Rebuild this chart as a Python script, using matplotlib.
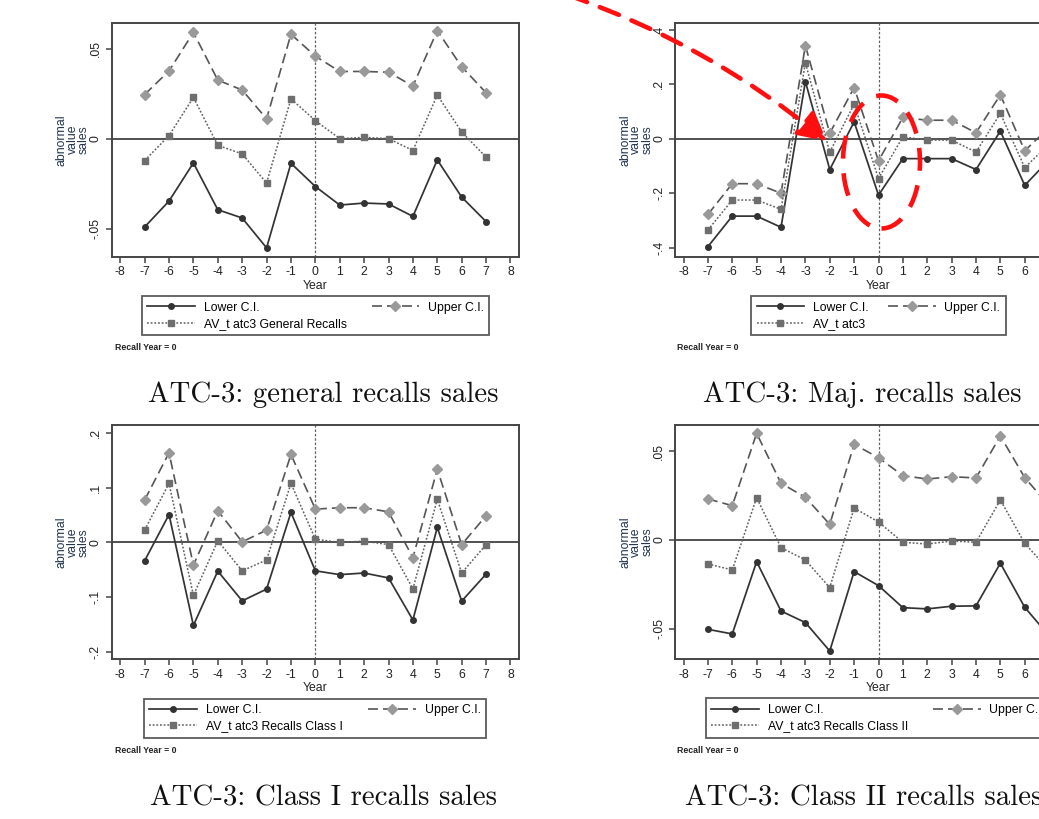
import matplotlib
matplotlib.use("Agg")
import matplotlib.pyplot as plt
from matplotlib.patches import Ellipse, FancyArrowPatch

plt.rcParams['font.family'] = ['Liberation Sans', 'DejaVu Sans']

years = list(range(-7, 8))
xticks = list(range(-8, 9))

# ATC-3 general recalls
gen_lower = [-0.0491, -0.0347, -0.0135, -0.0395, -0.0441, -0.0607, -0.0137, -0.0266,
             -0.0369, -0.0358, -0.0363, -0.0432, -0.0118, -0.0325, -0.0461]
gen_av = [-0.0122, 0.0017, 0.0229, -0.0037, -0.0085, -0.0247, 0.0221, 0.0100,
          0.0000, 0.0007, 0.0000, -0.0066, 0.0242, 0.0037, -0.0103]
gen_upper = [0.0245, 0.0376, 0.0590, 0.0325, 0.0270, 0.0110, 0.0580, 0.0458,
             0.0373, 0.0373, 0.0369, 0.0292, 0.0600, 0.0399, 0.0255]

# ATC-3 major recalls
maj_lower = [-0.396, -0.284, -0.284, -0.325, 0.210, -0.113, 0.062, -0.207,
             -0.073, -0.073, -0.073, -0.113, 0.028, -0.171, -0.078]
maj_av = [-0.335, -0.225, -0.225, -0.259, 0.279, -0.049, 0.127, -0.146,
          0.007, -0.005, -0.005, -0.049, 0.093, -0.106, -0.020]
maj_upper = [-0.278, -0.165, -0.165, -0.200, 0.342, 0.020, 0.188, -0.081,
             0.078, 0.068, 0.068, 0.022, 0.161, -0.044, 0.041]

# ATC-3 class I recalls
c1_lower = [-0.0336, 0.051, -0.152, -0.0525, -0.107, -0.0855, 0.055, -0.052,
            -0.059, -0.056, -0.065, -0.142, 0.0275, -0.1075, -0.058]
c1_av = [0.0226, 0.108, -0.097, 0.003, -0.052, -0.032, 0.108, 0.006,
         0.000, 0.0024, -0.004, -0.085, 0.079, -0.056, -0.004]
c1_upper = [0.0776, 0.164, -0.0415, 0.058, 0.001, 0.0226, 0.161, 0.061,
            0.0635, 0.0635, 0.056, -0.028, 0.134, -0.004, 0.049]

# ATC-3 class II recalls
c2_lower = [-0.0503, -0.0529, -0.0122, -0.0400, -0.0465, -0.0625, -0.0178, -0.0257,
            -0.0381, -0.0388, -0.0373, -0.0371, -0.0131, -0.0379, -0.0540]
c2_av = [-0.0135, -0.0169, 0.0238, -0.0043, -0.0113, -0.0268, 0.0180, 0.0101,
         -0.0013, -0.0023, -0.0006, -0.0013, 0.0225, -0.0019, -0.0170]
c2_upper = [0.0231, 0.0193, 0.0600, 0.0319, 0.0240, 0.0088, 0.0538, 0.0463,
            0.0362, 0.0343, 0.0356, 0.0349, 0.0585, 0.0351, 0.0193]

W, H = 1039, 819


def box(l, t, r, b):
    return [l / W, 1 - b / H, (r - l) / W, (b - t) / H]


def panel(pos, lower, av, upper, ylim, yticks, ylabels, av_name, leg_x, leg_w, note_x):
    ax = fig.add_axes(pos)
    ax.axhline(0, color='#505050', lw=1.4, zorder=1)
    ax.axvline(0, color='#606060', lw=0.9, ls=(0, (2, 1.5)), zorder=1)
    l1, = ax.plot(years, lower, color='#333333', lw=1.25, marker='o', ms=4,
                  mfc='#333333', mec='#333333', zorder=3)
    l2, = ax.plot(years, upper, color='#555555', lw=1.2, ls=(0, (6, 3)), marker='D',
                  ms=5, mfc='#999999', mec='#999999', zorder=3)
    l3, = ax.plot(years, av, color='#606060', lw=1.1, ls=(0, (1.2, 1.2)), marker='s',
                  ms=4.8, mfc='#6e6e6e', mec='#6e6e6e', zorder=3)
    ax.set_xlim(-8.35, 8.35)
    ax.set_ylim(*ylim)
    ax.set_xticks(xticks)
    ax.set_xticklabels([str(t) for t in xticks], fontsize=8.8, color='#222222')
    ax.set_yticks(yticks)
    ax.set_yticklabels(ylabels, fontsize=8.8, rotation=90, va='center', color='#222222')
    ax.tick_params(direction='out', length=4, width=1.1, color='#444444', pad=3)
    for s in ax.spines.values():
        s.set_color('#454545')
        s.set_linewidth(1.4)
    ax.set_xlabel('Year', fontsize=8.8, labelpad=1, color='#222222')
    ax.text(-0.095, 0.5, 'abnormal\nvalue\nsales', transform=ax.transAxes, rotation=90,
            ha='center', va='center', multialignment='center', fontsize=8.8,
            linespacing=0.9, color='#22344f')
    leg = ax.legend([l1, l3, l2], ['Lower C.I.', av_name, 'Upper C.I.'], ncol=2,
                    loc='upper left', bbox_to_anchor=(leg_x, -0.168, leg_w, 0),
                    mode='expand', fontsize=8.8, frameon=True, fancybox=False,
                    edgecolor='#333333', handlelength=3.9, handletextpad=0.7,
                    labelspacing=0.35, borderpad=0.45, borderaxespad=0)
    leg.get_frame().set_linewidth(1.3)
    ax.text(note_x, -0.39, 'Recall Year = 0', transform=ax.transAxes, fontsize=6.3,
            fontweight='bold', ha='left', va='center', color='#222222')
    return ax


fig = plt.figure(figsize=(W / 100, H / 100), dpi=100)

panel(box(111.7, 22.7, 519, 256.7), gen_lower, gen_av, gen_upper, (-0.0656, 0.0644),
      [-0.05, 0, 0.05], ['-.05', '0', '.05'], 'AV_t atc3 General Recalls', 0.074, 0.853, 0.008)
panel(box(675, 22.7, 1082, 256.7), maj_lower, maj_av, maj_upper, (-0.433, 0.426),
      [-0.4, -0.2, 0, 0.2, 0.4], ['-.4', '-.2', '0', '.2', '.4'], 'AV_t atc3',
      0.187, 0.626, 0.005)
panel(box(111.7, 425, 519, 659.3), c1_lower, c1_av, c1_upper, (-0.214, 0.215),
      [-0.2, -0.1, 0, 0.1, 0.2], ['-.2', '-.1', '0', '.1', '.2'], 'AV_t atc3 Recalls Class I',
      0.079, 0.84, 0.008)
panel(box(675, 425, 1082, 659), c2_lower, c2_av, c2_upper, (-0.067, 0.0647),
      [-0.05, 0, 0.05], ['-.05', '0', '.05'], 'AV_t atc3 Recalls Class II', 0.076, 0.847, 0.005)

cap = dict(fontsize=20.8, family='cmr10', ha='left', va='center', color='#111111')
fig.text(148 / W, 1 - 395 / H, 'ATC-3: general recalls sales', **cap)
fig.text(703 / W, 1 - 395 / H, 'ATC-3: Maj. recalls sales', **cap)
fig.text(150 / W, 1 - 798 / H, 'ATC-3: Class I recalls sales', **cap)
fig.text(685 / W, 1 - 798 / H, 'ATC-3: Class II recalls sales', **cap)

# red annotation: dashed arrow and ellipse
arrow = FancyArrowPatch((565 / W, 1 + 6 / H), (829 / W, 1 - 143 / H),
                        transform=fig.transFigure, connectionstyle='arc3,rad=-0.09',
                        arrowstyle='-|>,head_length=17,head_width=9', color='#ff1010',
                        lw=3.3, ls=(0, (4.5, 3)), zorder=10)
fig.add_artist(arrow)
ell = Ellipse((881.5 / W, 1 - 162 / H), 77 / W, 133 / H, transform=fig.transFigure,
              fill=False, edgecolor='#ff1010', lw=3.3, ls=(0, (5, 3.2)), zorder=10)
fig.add_artist(ell)

fig.savefig('out.png', dpi=100)
